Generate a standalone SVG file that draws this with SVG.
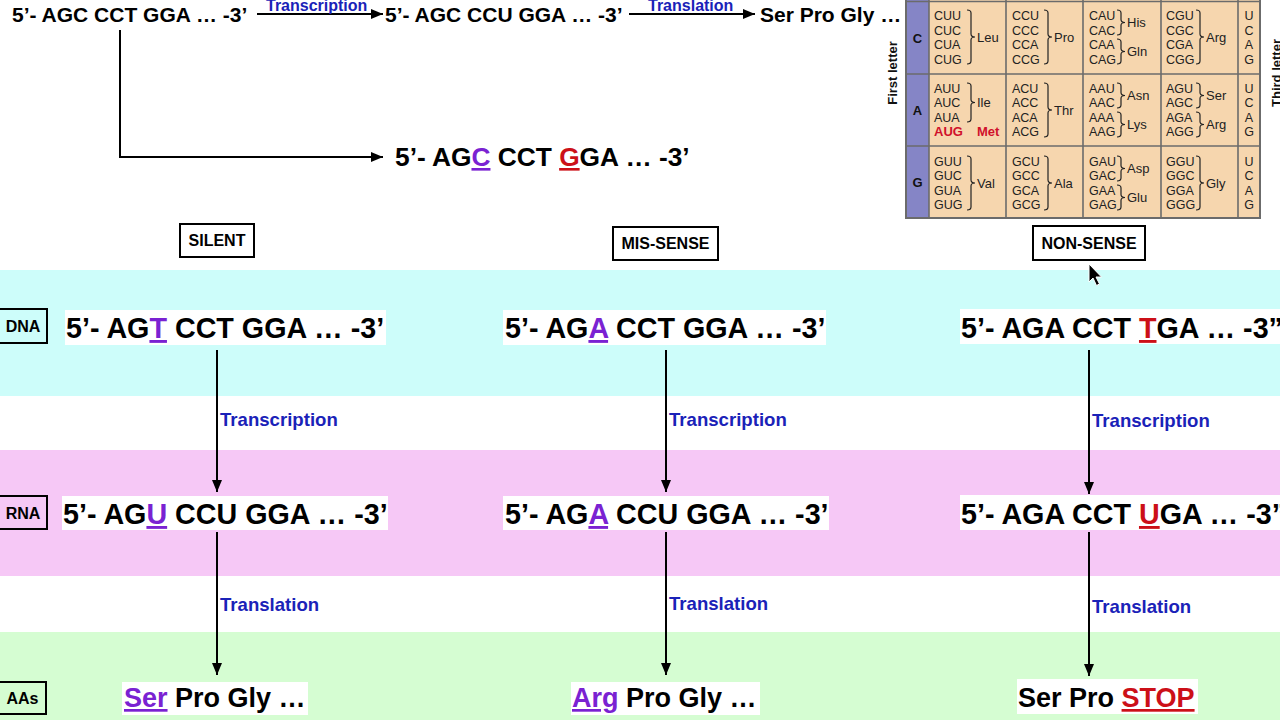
<svg xmlns="http://www.w3.org/2000/svg" width="1280" height="720" viewBox="0 0 1280 720">
<defs>
<marker id="ah" markerUnits="userSpaceOnUse" markerWidth="13" markerHeight="11" refX="12" refY="5" orient="auto">
<path d="M0,0 L12,5 L0,10 Z" fill="#000"/>
</marker>
<style>
text{font-family:"Liberation Sans",Arial,sans-serif;}
.seqTop{font-size:21px;font-weight:bold;fill:#000;}
.seqMid{font-size:26.3px;font-weight:bold;fill:#000;}
.seq{font-size:28.7px;font-weight:bold;fill:#000;}
.aa{font-size:27px;font-weight:bold;fill:#000;}
.pu{fill:#7a22d2;text-decoration:underline;}
.rd{fill:#cc1018;text-decoration:underline;}
.lblTop{font-size:16px;font-weight:bold;fill:#1a22b8;}
.lbl{font-size:18.6px;font-weight:bold;fill:#1a22b8;}
.box{fill:none;stroke:#000;stroke-width:2;}
.boxT{font-size:16px;font-weight:bold;fill:#000;text-anchor:middle;}
.side{font-size:16px;font-weight:bold;fill:#000;text-anchor:middle;}
.wb{fill:#fff;}
.conn{stroke:#000;stroke-width:2;fill:none;}
.cod{font-size:12.5px;fill:#222;}
.am{font-size:13px;fill:#222;}
.met{font-size:13px;font-weight:bold;fill:#d0102a;}
.br{fill:none;stroke:#222;stroke-width:1.2;}
.fl{font-size:13px;font-weight:bold;fill:#111;text-anchor:middle;}
.tl{font-size:12.5px;fill:#222;text-anchor:middle;}
.grid{stroke:#6b6b6b;stroke-width:1.6;}
</style>
</defs>
<rect width="1280" height="720" fill="#fff"/>
<g id="bands">
<rect x="0" y="270" width="1280" height="126" fill="#cdfdfa"/>
<rect x="0" y="450" width="1280" height="126" fill="#f6c8f6"/>
<rect x="0" y="632" width="1280" height="88" fill="#d5fdd2"/>
</g>
<g id="top-dna"><text class="seqTop" x="12" y="22">5’- AGC CCT GGA … -3’</text></g>
<g id="top-rna"><text class="seqTop" x="385" y="22">5’- AGC CCU GGA … -3’</text></g>
<g id="top-aa"><text class="seqTop" x="760" y="22">Ser Pro Gly …</text></g>
<g id="mutant-dna"><text class="seqMid" x="395" y="166">5’- AG<tspan class="pu">C</tspan> CCT <tspan class="rd">G</tspan>GA … -3’</text></g>
<g id="codon-table">
<rect x="906" y="-20" width="354" height="238" fill="#f6d6ae"/>
<rect x="906" y="-20" width="23" height="238" fill="#8585c6"/>
<line class="grid" x1="929" y1="-20" x2="929" y2="218"/>
<line class="grid" x1="1006" y1="-20" x2="1006" y2="218"/>
<line class="grid" x1="1083" y1="-20" x2="1083" y2="218"/>
<line class="grid" x1="1161" y1="-20" x2="1161" y2="218"/>
<line class="grid" x1="1238" y1="-20" x2="1238" y2="218"/>
<line class="grid" x1="906" y1="1.5" x2="1260" y2="1.5"/>
<line class="grid" x1="906" y1="74" x2="1260" y2="74"/>
<line class="grid" x1="906" y1="146" x2="1260" y2="146"/>
<rect x="906" y="-20" width="354" height="238" fill="none" stroke="#6b6b6b" stroke-width="2"/>
<text class="fl" x="917.5" y="42.5">C</text>
<text class="fl" x="917.5" y="114.5">A</text>
<text class="fl" x="917.5" y="186.5">G</text>
<text class="cod" x="934" y="19.5">CUU</text><text class="cod" x="934" y="34.5">CUC</text><text class="cod" x="934" y="48.5">CUA</text><text class="cod" x="934" y="63.5">CUG</text>
<path class="br" d="M967,10 Q971,10 971,13 L971,34 Q971,37 975,37 Q971,37 971,40 L971,61 Q971,64 967,64"/>
<text class="am" x="977" y="41.5">Leu</text>
<text class="cod" x="1012" y="19.5">CCU</text><text class="cod" x="1012" y="34.5">CCC</text><text class="cod" x="1012" y="48.5">CCA</text><text class="cod" x="1012" y="63.5">CCG</text>
<path class="br" d="M1044,10 Q1048,10 1048,13 L1048,34 Q1048,37 1052,37 Q1048,37 1048,40 L1048,61 Q1048,64 1044,64"/>
<text class="am" x="1054" y="41.5">Pro</text>
<text class="cod" x="1089" y="19.5">CAU</text><text class="cod" x="1089" y="34.5">CAC</text><text class="cod" x="1089" y="48.5">CAA</text><text class="cod" x="1089" y="63.5">CAG</text>
<path class="br" d="M1117,10 Q1121,10 1121,13 L1121,19.5 Q1121,22.5 1125,22.5 Q1121,22.5 1121,25.5 L1121,32 Q1121,35 1117,35"/>
<text class="am" x="1127" y="27">His</text>
<path class="br" d="M1117,39 Q1121,39 1121,42 L1121,48.5 Q1121,51.5 1125,51.5 Q1121,51.5 1121,54.5 L1121,61 Q1121,64 1117,64"/>
<text class="am" x="1127" y="56">Gln</text>
<text class="cod" x="1166" y="19.5">CGU</text><text class="cod" x="1166" y="34.5">CGC</text><text class="cod" x="1166" y="48.5">CGA</text><text class="cod" x="1166" y="63.5">CGG</text>
<path class="br" d="M1196,10 Q1200,10 1200,13 L1200,34 Q1200,37 1204,37 Q1200,37 1200,40 L1200,61 Q1200,64 1196,64"/>
<text class="am" x="1206" y="41.5">Arg</text>
<text class="tl" x="1249" y="19.5">U</text><text class="tl" x="1249" y="34.5">C</text><text class="tl" x="1249" y="48.5">A</text><text class="tl" x="1249" y="63.5">G</text>
<text class="cod" x="934" y="92.5">AUU</text><text class="cod" x="934" y="107">AUC</text><text class="cod" x="934" y="121.5">AUA</text><text class="met" x="934" y="136">AUG</text>
<path class="br" d="M967,83 Q971,83 971,86 L971,99.5 Q971,102.5 975,102.5 Q971,102.5 971,105.5 L971,119 Q971,122 967,122"/>
<text class="am" x="977" y="107">Ile</text>
<text class="met" x="977" y="136">Met</text>
<text class="cod" x="1012" y="92.5">ACU</text><text class="cod" x="1012" y="107">ACC</text><text class="cod" x="1012" y="121.5">ACA</text><text class="cod" x="1012" y="136">ACG</text>
<path class="br" d="M1044,83 Q1048,83 1048,86 L1048,107 Q1048,110 1052,110 Q1048,110 1048,113 L1048,134 Q1048,137 1044,137"/>
<text class="am" x="1054" y="114.5">Thr</text>
<text class="cod" x="1089" y="92.5">AAU</text><text class="cod" x="1089" y="107">AAC</text><text class="cod" x="1089" y="121.5">AAA</text><text class="cod" x="1089" y="136">AAG</text>
<path class="br" d="M1117,83 Q1121,83 1121,86 L1121,92.5 Q1121,95.5 1125,95.5 Q1121,95.5 1121,98.5 L1121,105 Q1121,108 1117,108"/>
<text class="am" x="1127" y="100">Asn</text>
<path class="br" d="M1117,112 Q1121,112 1121,115 L1121,121.5 Q1121,124.5 1125,124.5 Q1121,124.5 1121,127.5 L1121,134 Q1121,137 1117,137"/>
<text class="am" x="1127" y="129">Lys</text>
<text class="cod" x="1166" y="92.5">AGU</text><text class="cod" x="1166" y="107">AGC</text><text class="cod" x="1166" y="121.5">AGA</text><text class="cod" x="1166" y="136">AGG</text>
<path class="br" d="M1196,83 Q1200,83 1200,86 L1200,92.5 Q1200,95.5 1204,95.5 Q1200,95.5 1200,98.5 L1200,105 Q1200,108 1196,108"/>
<text class="am" x="1206" y="100">Ser</text>
<path class="br" d="M1196,112 Q1200,112 1200,115 L1200,121.5 Q1200,124.5 1204,124.5 Q1200,124.5 1200,127.5 L1200,134 Q1200,137 1196,137"/>
<text class="am" x="1206" y="129">Arg</text>
<text class="tl" x="1249" y="92.5">U</text><text class="tl" x="1249" y="107">C</text><text class="tl" x="1249" y="121.5">A</text><text class="tl" x="1249" y="136">G</text>
<text class="cod" x="934" y="165.5">GUU</text><text class="cod" x="934" y="180">GUC</text><text class="cod" x="934" y="194.5">GUA</text><text class="cod" x="934" y="209">GUG</text>
<path class="br" d="M967,156 Q971,156 971,159 L971,180 Q971,183 975,183 Q971,183 971,186 L971,207 Q971,210 967,210"/>
<text class="am" x="977" y="187.5">Val</text>
<text class="cod" x="1012" y="165.5">GCU</text><text class="cod" x="1012" y="180">GCC</text><text class="cod" x="1012" y="194.5">GCA</text><text class="cod" x="1012" y="209">GCG</text>
<path class="br" d="M1044,156 Q1048,156 1048,159 L1048,180 Q1048,183 1052,183 Q1048,183 1048,186 L1048,207 Q1048,210 1044,210"/>
<text class="am" x="1054" y="187.5">Ala</text>
<text class="cod" x="1089" y="165.5">GAU</text><text class="cod" x="1089" y="180">GAC</text><text class="cod" x="1089" y="194.5">GAA</text><text class="cod" x="1089" y="209">GAG</text>
<path class="br" d="M1117,156 Q1121,156 1121,159 L1121,165.5 Q1121,168.5 1125,168.5 Q1121,168.5 1121,171.5 L1121,178 Q1121,181 1117,181"/>
<text class="am" x="1127" y="173">Asp</text>
<path class="br" d="M1117,185 Q1121,185 1121,188 L1121,194.5 Q1121,197.5 1125,197.5 Q1121,197.5 1121,200.5 L1121,207 Q1121,210 1117,210"/>
<text class="am" x="1127" y="202">Glu</text>
<text class="cod" x="1166" y="165.5">GGU</text><text class="cod" x="1166" y="180">GGC</text><text class="cod" x="1166" y="194.5">GGA</text><text class="cod" x="1166" y="209">GGG</text>
<path class="br" d="M1196,156 Q1200,156 1200,159 L1200,180 Q1200,183 1204,183 Q1200,183 1200,186 L1200,207 Q1200,210 1196,210"/>
<text class="am" x="1206" y="187.5">Gly</text>
<text class="tl" x="1249" y="165.5">U</text><text class="tl" x="1249" y="180">C</text><text class="tl" x="1249" y="194.5">A</text><text class="tl" x="1249" y="209">G</text>
<text class="fl" transform="translate(897,73) rotate(-90)">First letter</text>
<text class="fl" transform="translate(1281,73) rotate(-90)">Third letter</text>
</g>
<g id="type-silent"><rect class="box" x="180" y="224" width="74" height="33" fill="#fff"/><text class="boxT" x="217" y="246">SILENT</text></g>
<g id="type-missense"><rect class="box" x="613" y="227" width="105" height="33"/><text class="boxT" x="665.5" y="249">MIS-SENSE</text></g>
<g id="type-nonsense"><rect class="box" x="1033" y="226" width="112" height="34"/><text class="boxT" x="1089" y="249">NON-SENSE</text></g>
<g id="row-dna"><rect class="box" x="-1" y="309" width="48" height="34"/><text class="side" x="23" y="332">DNA</text></g>
<g id="row-rna"><rect class="box" x="-1" y="496" width="48" height="33"/><text class="side" x="23" y="518.5">RNA</text></g>
<g id="row-aas"><rect class="box" x="-1" y="682" width="47" height="32"/><text class="side" x="22.5" y="704">AAs</text></g>
<g id="silent-dna"><rect class="wb" x="65" y="310" width="321" height="35"/><text class="seq" x="66" y="338">5’- AG<tspan class="pu">T</tspan> CCT GGA … -3’</text></g>
<g id="silent-rna"><rect class="wb" x="62" y="496" width="326" height="34"/><text class="seq" x="63" y="524">5’- AG<tspan class="pu">U</tspan> CCU GGA … -3’</text></g>
<g id="silent-aa"><rect class="wb" x="122" y="682" width="186" height="33"/><text class="aa" x="124" y="707"><tspan class="pu">Ser</tspan> Pro Gly …</text></g>
<g id="missense-dna"><rect class="wb" x="503" y="310" width="323" height="35"/><text class="seq" x="505" y="338">5’- AG<tspan class="pu">A</tspan> CCT GGA … -3’</text></g>
<g id="missense-rna"><rect class="wb" x="503" y="496" width="326" height="34"/><text class="seq" x="505" y="524">5’- AG<tspan class="pu">A</tspan> CCU GGA … -3’</text></g>
<g id="missense-aa"><rect class="wb" x="571" y="682" width="189" height="33"/><text class="aa" x="572" y="707"><tspan class="pu">Arg</tspan> Pro Gly …</text></g>
<g id="nonsense-dna"><rect class="wb" x="960" y="309" width="320" height="35"/><text class="seq" x="961" y="338">5’- AGA CCT <tspan class="rd">T</tspan>GA … -3”</text></g>
<g id="nonsense-rna"><rect class="wb" x="960" y="495" width="320" height="35"/><text class="seq" x="961" y="524">5’- AGA CCT <tspan class="rd">U</tspan>GA … -3”</text></g>
<g id="nonsense-aa"><rect class="wb" x="1017" y="679" width="181" height="35"/><text class="aa" x="1018" y="707">Ser Pro <tspan class="rd">STOP</tspan></text></g>
<g id="connectors">
<line class="conn" x1="257" y1="14" x2="383" y2="14" marker-end="url(#ah)"/>
<line class="conn" x1="629" y1="14" x2="755" y2="14" marker-end="url(#ah)"/>
<polyline class="conn" points="120,30 120,157 383,157" marker-end="url(#ah)"/>
<line class="conn" x1="217" y1="350" x2="217" y2="492" marker-end="url(#ah)"/>
<line class="conn" x1="217" y1="532" x2="217" y2="675" marker-end="url(#ah)"/>
<line class="conn" x1="666" y1="350" x2="666" y2="492" marker-end="url(#ah)"/>
<line class="conn" x1="666" y1="532" x2="666" y2="675" marker-end="url(#ah)"/>
<line class="conn" x1="1089" y1="350" x2="1089" y2="494" marker-end="url(#ah)"/>
<line class="conn" x1="1089" y1="532" x2="1089" y2="676" marker-end="url(#ah)"/>
<text class="lblTop" x="266" y="11">Transcription</text>
<text class="lblTop" x="648" y="11">Translation</text>
<text class="lbl" x="220" y="426">Transcription</text>
<text class="lbl" x="220" y="611">Translation</text>
<text class="lbl" x="669" y="426">Transcription</text>
<text class="lbl" x="669" y="610">Translation</text>
<text class="lbl" x="1092" y="427">Transcription</text>
<text class="lbl" x="1092" y="613">Translation</text>
</g>
<g id="cursor"><path d="M1089,264 L1089,282 L1093,278 L1096.5,285.5 L1099.5,284 L1096,277 L1101.5,277 Z" fill="#000" stroke="#fff" stroke-width="1"/></g>
</svg>
